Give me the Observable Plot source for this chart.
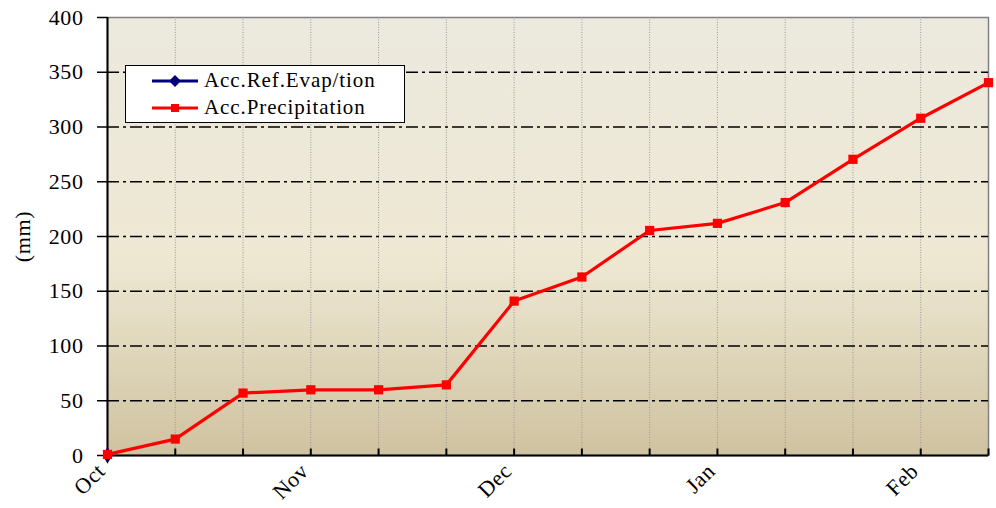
<!DOCTYPE html>
<html>
<head>
<meta charset="utf-8">
<script src="https://cdn.jsdelivr.net/npm/d3@7"></script>
<script src="https://cdn.jsdelivr.net/npm/@observablehq/plot@0.6"></script>
<style>
  html, body { margin: 0; padding: 0; background: #fff; }
  #wrap { position: relative; width: 996px; height: 508px; font-family: "Liberation Serif", serif; }
  #legend { position: absolute; left: 125px; top: 65px; width: 280px; height: 58px; background: #fff; border: 1.5px solid #000; box-sizing: border-box; }
  .li { position: absolute; left: 26px; height: 25px; display: flex; align-items: center; font-size: 21px; letter-spacing: 0.9px; color: #000; white-space: nowrap; }
  .li svg { margin-right: 6px; }
  svg text { letter-spacing: 0.6px; }
</style>
</head>
<body>
<div id="wrap"></div>
<script>
// ---- data ----
const periods = [0,1,2,3,4,5,6,7,8,9,10,11,12,13];
const precipitation = [1,15,57,60,60,64.5,141,163,205.5,212,231,270.5,308,340.5];
const evapPeriods = [0];
const evapValues = [0];
const monthTicks = [0,3,6,9,12];
const monthLabels = ["Oct","Nov","Dec","Jan","Feb"];
const yTicks = [0,50,100,150,200,250,300,350,400];
const gridYValues = [50,100,150,200,250,300,350];
const seriesNames = ["Acc.Ref.Evap/tion","Acc.Precipitation"];
const seriesColors = ["#000080","#ff0000"];

const precipData = periods.map((p,i) => ({p, v: precipitation[i]}));
const evapData = evapPeriods.map((p,i) => ({p, v: evapValues[i]}));

const defs = () => {
  const svgNS = "http://www.w3.org/2000/svg";
  const d = document.createElementNS(svgNS, "defs");
  d.innerHTML = `<linearGradient id="bg" x1="0" y1="0" x2="0" y2="1">
    <stop offset="0" stop-color="#ECE9DE"/>
    <stop offset="0.55" stop-color="#EEE8D3"/>
    <stop offset="1" stop-color="#CFC2A0"/>
  </linearGradient>`;
  return d;
};

// inward tick symbol (vertical stroke going up from the axis)
const upTick = { draw(ctx) { ctx.moveTo(0, 0); ctx.lineTo(0, -7); } };

const chart = Plot.plot({
  width: 996,
  height: 508,
  marginLeft: 107,
  marginRight: 8,
  marginTop: 17,
  marginBottom: 53,
  style: { fontFamily: "Liberation Serif, serif", fontSize: "22px", background: "transparent", color: "#000" },
  x: { domain: [0, 13] },
  y: { domain: [0, 400] },
  marks: [
    defs,
    Plot.frame({ fill: "url(#bg)", stroke: "#808080", strokeWidth: 1.5 }),
    Plot.ruleX(periods.slice(1, 13), { stroke: "#9a9a9a", strokeDasharray: "1,1.5", strokeWidth: 1 }),
    Plot.ruleY(gridYValues, { stroke: "#000", strokeWidth: 1.6, strokeDasharray: "12,4,3,4" }),
    Plot.dot(periods, { x: d => d, y: () => 0, symbol: upTick, fill: "none", stroke: "#000", strokeWidth: 2 }),
    Plot.ruleX([0], { stroke: "#000", strokeWidth: 2 }),
    Plot.ruleY([0], { stroke: "#000", strokeWidth: 2 }),
    Plot.axisY({ ticks: yTicks, tickSize: 10, tickPadding: 14, strokeWidth: 1.5, label: "(mm)", labelAnchor: "center", labelArrow: "none", labelOffset: 93, fontSize: 22 }),
    Plot.axisX({ ticks: monthTicks, tickFormat: i => monthLabels[monthTicks.indexOf(i)], tickRotate: -45, tickSize: 0, tickPadding: 12, dx: -6, label: null, fontSize: 22 }),
    Plot.line(evapData, { x: "p", y: "v", stroke: seriesColors[0], strokeWidth: 3 }),
    Plot.dot(evapData, { x: "p", y: "v", symbol: "diamond", fill: seriesColors[0], r: 5 }),
    Plot.line(precipData, { x: "p", y: "v", stroke: seriesColors[1], strokeWidth: 3.2 }),
    Plot.dot(precipData, { x: "p", y: "v", symbol: "square", fill: seriesColors[1], r: 5.2 })
  ]
});

const wrap = document.getElementById("wrap");
wrap.appendChild(chart);

// legend (inside plot area, HTML overlay)
const legend = document.createElement("div");
legend.id = "legend";
seriesNames.forEach((name, i) => {
  const row = document.createElement("div");
  row.className = "li";
  row.style.top = (i === 0 ? 2 : 29) + "px";
  const sym = i === 0
    ? `<polygon points="23,6 29,12 23,18 17,12" fill="${seriesColors[i]}"/>`
    : `<rect x="19" y="8" width="8" height="8" fill="${seriesColors[i]}"/>`;
  row.innerHTML = `<svg width="46" height="24"><line x1="0" y1="12" x2="46" y2="12" stroke="${seriesColors[i]}" stroke-width="3.2"/>${sym}</svg><span>${name}</span>`;
  legend.appendChild(row);
});
wrap.appendChild(legend);
</script>
</body>
</html>
